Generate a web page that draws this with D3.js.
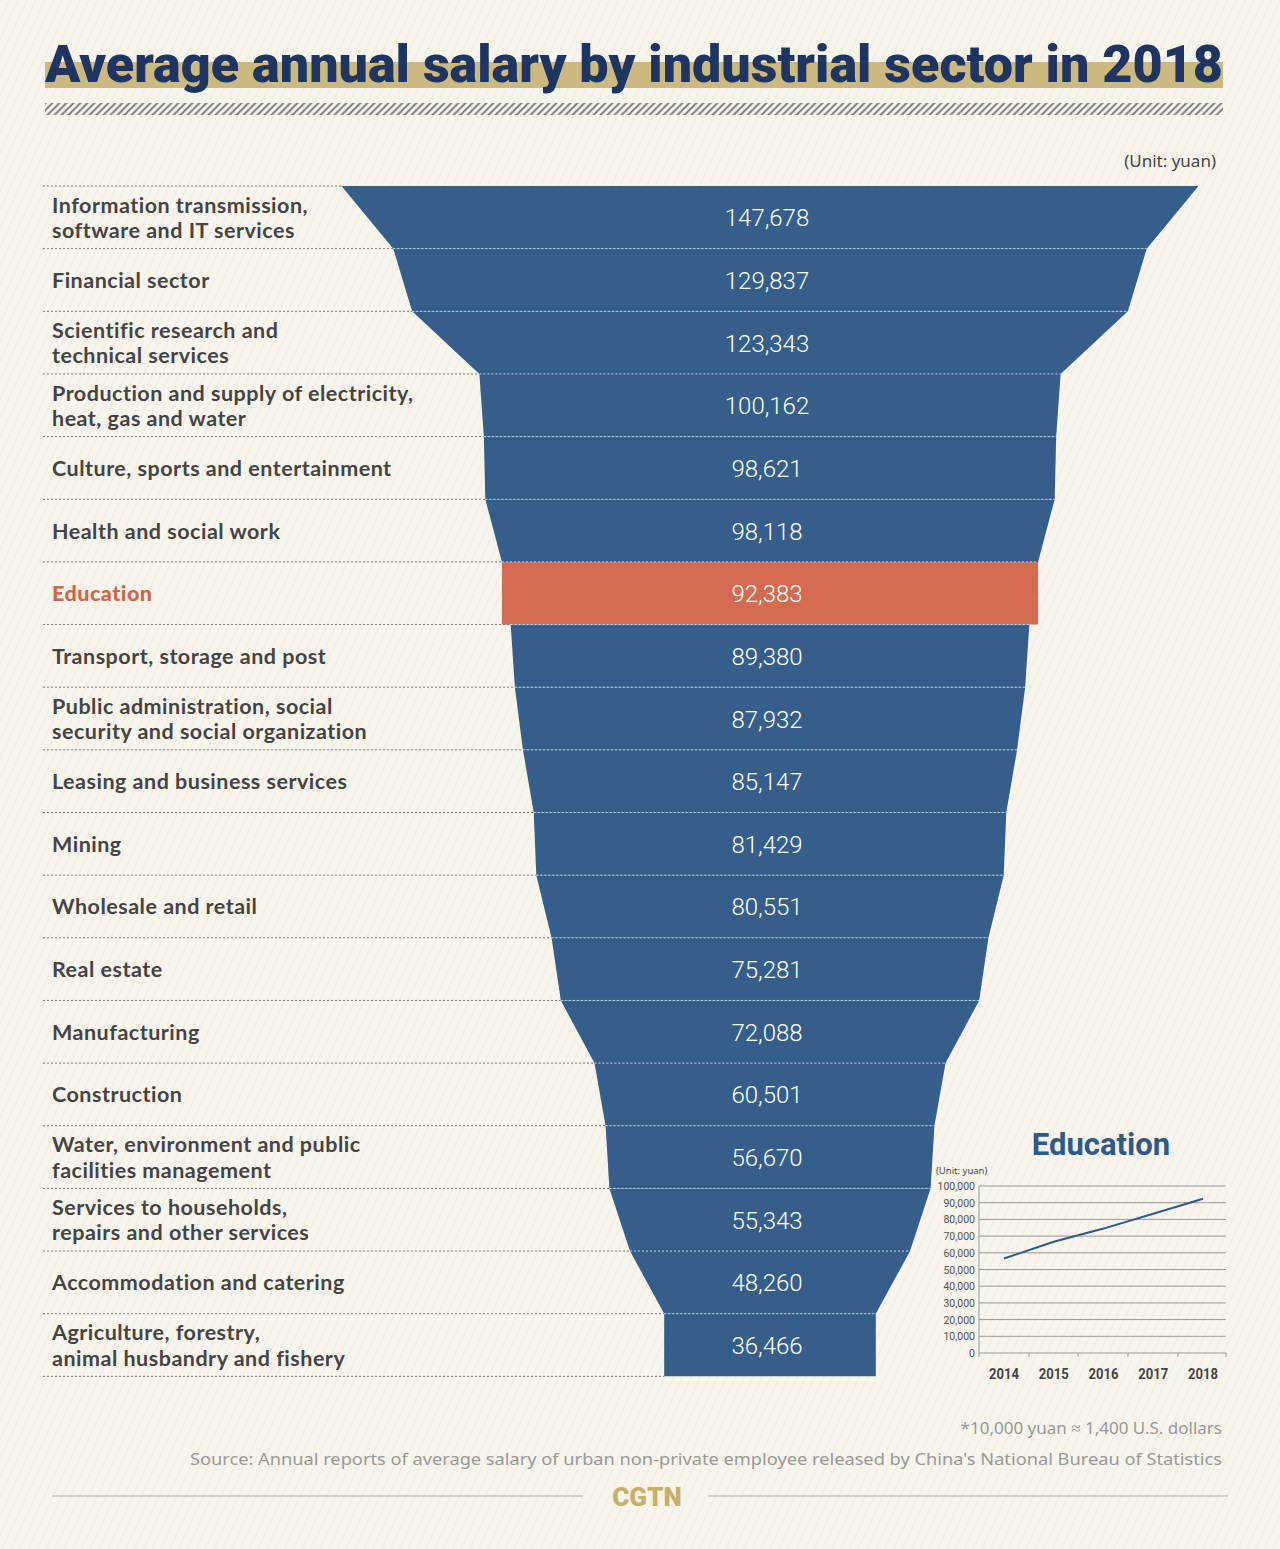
<!DOCTYPE html>
<html><head><meta charset="utf-8">
<script src="https://cdn.jsdelivr.net/npm/d3@7"></script>
<style>body{margin:0;background:#f7f4ec}</style></head>
<body><svg id="c" width="1280" height="1549"></svg>
<script>
const sectors=[["Information transmission,","software and IT services"],["Financial sector"],["Scientific research and","technical services"],["Production and supply of electricity,","heat, gas and water"],["Culture, sports and entertainment"],["Health and social work"],["Education"],["Transport, storage and post"],["Public administration, social","security and social organization"],["Leasing and business services"],["Mining"],["Wholesale and retail"],["Real estate"],["Manufacturing"],["Construction"],["Water, environment and public","facilities management"],["Services to households,","repairs and other services"],["Accommodation and catering"],["Agriculture, forestry,","animal husbandry and fishery"]];
const salaries=[147678,129837,123343,100162,98621,98118,92383,89380,87932,85147,81429,80551,75281,72088,60501,56670,55343,48260,36466];
const eduYears=["2014","2015","2016","2017","2018"];
const eduValues=[56580,66592,74498,83412,92383];
const yTicks=[0,10000,20000,30000,40000,50000,60000,70000,80000,90000,100000];

const svg=d3.select("#c");
const defs=svg.append("defs");
const pat=defs.append("pattern").attr("id","bg").attr("width",8).attr("height",8).attr("patternUnits","userSpaceOnUse").attr("patternTransform","rotate(25)");
pat.append("rect").attr("width",8).attr("height",8).attr("fill","#f7f4ec");
pat.append("line").attr("x1",0).attr("y1",0).attr("x2",0).attr("y2",8).attr("stroke","#efebe0").attr("stroke-width",2);
svg.append("rect").attr("width",1280).attr("height",1549).attr("fill","url(#bg)");
const h=defs.append("pattern").attr("id","hatch").attr("width",7).attr("height",12).attr("patternUnits","userSpaceOnUse").attr("patternTransform","skewX(-45)");
h.append("rect").attr("width",3).attr("height",12).attr("fill","#888");

svg.append("rect").attr("x",45).attr("y",62).attr("width",1178).attr("height",26).attr("fill","#cbb97f");
svg.append("text").attr("x",45).attr("y",82).attr("font-family","Roboto").attr("font-weight",900).attr("font-size",52).attr("fill","#1e3461").attr("textLength",1178).attr("lengthAdjust","spacingAndGlyphs").text("Average annual salary by industrial sector in 2018");
svg.append("rect").attr("x",45).attr("y",103).attr("width",1178).attr("height",12).attr("fill","url(#hatch)");
svg.append("text").attr("x",1216).attr("y",167).attr("text-anchor","end").attr("font-family","Noto Sans").attr("font-size",17).attr("fill","#444").text("(Unit: yuan)");

const top0=186,rowH=62.65,cx=770;
const w=d3.scaleLinear().domain([0,147678]).range([0,857]);
const y=i=>top0+i*rowH;
const g=svg.append("g");
salaries.forEach((v,i)=>{
  const edu=sectors[i][0]==="Education";
  const nv=(edu||i===salaries.length-1)?v:salaries[i+1];
  const a=w(v)/2,b=w(nv)/2;
  g.append("path").attr("d",`M${cx-a},${y(i)}L${cx+a},${y(i)}L${cx+b},${y(i+1)}L${cx-b},${y(i+1)}Z`).attr("fill",edu?"#d46a50":"#355f8a");
});
salaries.forEach((v,i)=>{
  const edu=sectors[i][0]==="Education";
  const yy=y(i);
  const hw=w(v)/2;
  g.append("line").attr("x1",43).attr("x2",cx-hw).attr("y1",yy).attr("y2",yy).attr("stroke","#777").attr("stroke-dasharray","2,2");
  if(i>0) g.append("line").attr("x1",cx-hw).attr("x2",cx+hw).attr("y1",yy).attr("y2",yy).attr("stroke","#c9d6e4").attr("stroke-dasharray","2,2");
  const lines=sectors[i];
  lines.forEach((l,k)=>g.append("text").attr("x",52).attr("y",yy+rowH/2+8+(lines.length>1?(k-0.5)*25.5:0))
    .attr("font-family","Lato").attr("font-size",21.5).attr("letter-spacing",0.5).attr("font-weight",edu?900:700).attr("fill",edu?"#d0654a":"#444").text(l));
  g.append("text").attr("x",cx-3).attr("y",yy+rowH/2+9).attr("text-anchor","middle").attr("font-family","Roboto").attr("font-weight",300).attr("font-size",24).attr("fill","#fff").text(d3.format(",")(v));
});
const yl=y(19);
g.append("line").attr("x1",43).attr("x2",cx-w(36466)/2).attr("y1",yl).attr("y2",yl).attr("stroke","#777").attr("stroke-dasharray","2,2");

const ins=svg.append("g");
ins.append("text").attr("x",1101).attr("y",1155).attr("text-anchor","middle").attr("font-family","Roboto").attr("font-weight",700).attr("font-size",31).attr("fill","#2f5a88").text("Education");
ins.append("text").attr("x",936).attr("y",1174).attr("font-family","Noto Sans").attr("font-size",9.5).attr("fill","#444").text("(Unit: yuan)");
const ys=d3.scaleLinear().domain([0,100000]).range([1353,1186]);
const xs=d3.scalePoint().domain(eduYears).range([1004,1203]);
yTicks.forEach(t=>{
  ins.append("line").attr("x1",979).attr("x2",1226).attr("y1",ys(t)).attr("y2",ys(t)).attr("stroke","#999").attr("stroke-width",1);
  ins.append("text").attr("x",975).attr("y",ys(t)+4).attr("text-anchor","end").attr("font-family","Roboto").attr("font-size",10.5).attr("fill","#555").text(d3.format(",")(t));
});
ins.append("line").attr("x1",979).attr("x2",979).attr("y1",1186).attr("y2",1353).attr("stroke","#999");
[979,1029,1078,1128,1178,1226].forEach(x=>ins.append("line").attr("x1",x).attr("x2",x).attr("y1",1353).attr("y2",1357).attr("stroke","#999"));
eduYears.forEach(yr=>ins.append("text").attr("x",xs(yr)).attr("y",1379).attr("text-anchor","middle").attr("font-family","Roboto").attr("font-weight",700).attr("font-size",15).attr("fill","#444").attr("textLength",30).attr("lengthAdjust","spacingAndGlyphs").text(yr));
ins.append("path").datum(eduValues).attr("d",d3.line().x((d,i)=>xs(eduYears[i])).y(d=>ys(d))).attr("fill","none").attr("stroke","#2f5a88").attr("stroke-width",2);

svg.append("text").attr("x",1222).attr("y",1434).attr("text-anchor","end").attr("font-family","Noto Sans").attr("font-size",17).attr("fill","#999").text("*10,000 yuan ≈ 1,400 U.S. dollars");
svg.append("text").attr("x",1222).attr("y",1465).attr("text-anchor","end").attr("font-family","Noto Sans").attr("font-size",17).attr("fill","#999").attr("textLength",1032).attr("lengthAdjust","spacingAndGlyphs").text("Source: Annual reports of average salary of urban non-private employee released by China's National Bureau of Statistics");
svg.append("line").attr("x1",52).attr("x2",583).attr("y1",1496).attr("y2",1496).attr("stroke","#aaa");
svg.append("line").attr("x1",708).attr("x2",1228).attr("y1",1496).attr("y2",1496).attr("stroke","#aaa");
svg.append("text").attr("x",647).attr("y",1506).attr("text-anchor","middle").attr("font-family","Roboto").attr("font-weight",900).attr("font-size",26).attr("fill","#c8b06a").text("CGTN");
</script></body></html>
